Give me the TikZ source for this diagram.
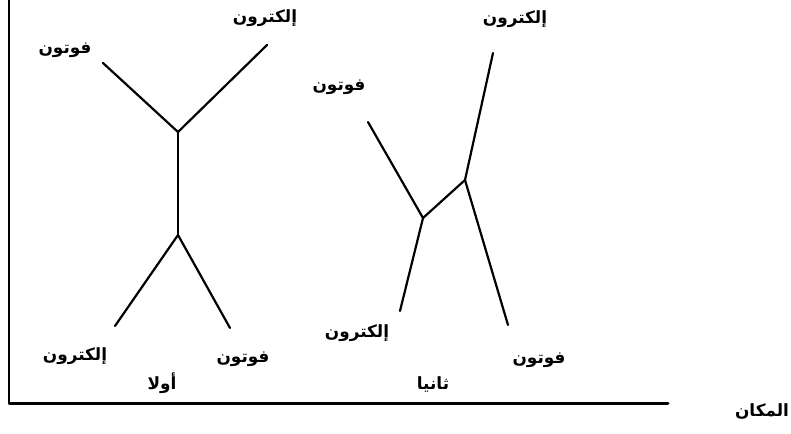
\documentclass[tikz,border=0pt]{standalone}
\usepackage{fontspec}
\newfontfamily\arabicfont[Script=Arabic]{DejaVu Sans}
\TeXXeTstate=1
\usetikzlibrary{positioning}

\begin{document}
\begin{tikzpicture}[x=0.02cm,y=-0.02cm,line cap=round,line join=round]
\tikzset{lab/.style={font=\arabicfont\bfseries\fontsize{9.6}{11}\selectfont,inner sep=1pt}, axisline/.style={line width=1.7pt}, path/.style={line width=1.25pt}}
\useasboundingbox (0,0) rectangle (791,433);

% axes
\coordinate (top) at (9,0);
\coordinate (origin) at (9,403);
\coordinate (xend) at (668,403);
\draw[axisline] (top)--(origin)--(xend);
\node[lab] (place) at (762,411) {\beginR المكان\endR};

% first diagram
\coordinate (V1) at (178,132);
\coordinate (V2) at (178,235);
\coordinate (p1in) at (103,63);
\coordinate (e1out) at (267,45);
\coordinate (e1in) at (115,326);
\coordinate (p1out) at (230,328);
\draw[path] (p1in)--(V1)--(e1out);
\draw[path] (V1)--(V2);
\draw[path] (e1in)--(V2)--(p1out);
\node[lab] (l1) at (265,18) {\beginR إلكترون\endR};
\node[lab] (l2) at (65,50) {\beginR فوتون\endR};
\node[lab] (l3) at (75,356) {\beginR إلكترون\endR};
\node[lab] (l4) at (243,359) {\beginR فوتون\endR};
\node[lab] (first) at (162,383) {\beginR أولا\endR};

% second diagram
\coordinate (W1) at (423,218);
\coordinate (W2) at (465,180);
\coordinate (p2in) at (368,122);
\coordinate (e2out) at (493,53);
\coordinate (e2in) at (400,311);
\coordinate (p2out) at (508,325);
\draw[path] (p2in)--(W1)--(W2)--(e2out);
\draw[path] (e2in)--(W1);
\draw[path] (W2)--(p2out);
\node[lab] (r1) at (515,19) {\beginR إلكترون\endR};
\node[lab] (r2) at (339,87) {\beginR فوتون\endR};
\node[lab] (r3) at (357,333) {\beginR إلكترون\endR};
\node[lab] (r4) at (539,360) {\beginR فوتون\endR};
\node[lab] (second) at (433,384) {\beginR ثانيا\endR};
\end{tikzpicture}
\end{document}
